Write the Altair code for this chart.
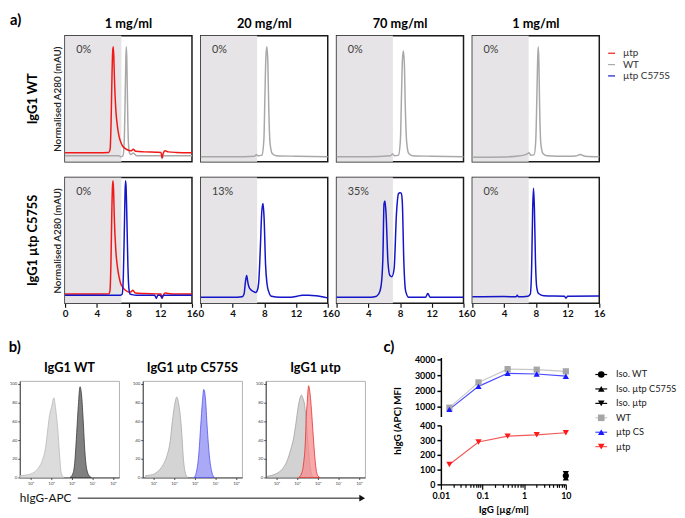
import altair as alt
import pandas as pd

FONT = "Lato"
MU = "\u00b5"

# ---------------- panel a : SEC chromatograms ----------------
col_titles = ["1 mg/ml", "20 mg/ml", "70 mg/ml", "1 mg/ml"]
row_titles = ["IgG1 WT", f"IgG1 {MU}tp C575S"]
pct_row1 = ["0%", "0%", "0%", "0%"]
pct_row2 = ["0%", "13%", "35%", "0%"]
a_series = [f"{MU}tp", "WT", f"{MU}tp C575S"]
a_colors = ["#f01818", "#a8a8a8", "#1414c8"]
SHADE_END = 7.1

r1p1_mutp_t = [0, 2, 4, 5.5, 5.68, 5.8, 5.92, 6.0, 6.07, 6.14, 6.22, 6.4, 6.6, 6.8, 7.0, 7.2, 7.6, 8.0, 8.35, 8.6, 8.9, 10, 11.5, 12.1, 12.22, 12.35, 12.6, 13, 14, 16]
r1p1_mutp_a = [0.027, 0.027, 0.027, 0.03, 0.06, 0.3, 0.75, 0.95, 1.0, 0.92, 0.72, 0.42, 0.27, 0.18, 0.13, 0.095, 0.065, 0.05, 0.045, 0.06, 0.04, 0.035, 0.032, 0.03, -0.02, 0.015, 0.045, 0.035, 0.03, 0.027]
r1p1_wt_t = [0, 4, 6.8, 7.0, 7.3, 7.45, 7.57, 7.66, 7.72, 7.78, 7.87, 7.97, 8.1, 8.3, 8.6, 9.0, 10, 12.1, 12.25, 12.4, 14, 16]
r1p1_wt_a = [0.0, 0.0, 0.0, -0.01, 0.0, 0.12, 0.5, 0.88, 1.0, 0.9, 0.5, 0.15, 0.03, 0.01, 0.025, 0.0, 0.0, 0.0, -0.025, 0.0, 0.0, 0.0]
r1p2_wt_t = [0, 4, 6.8, 7.0, 7.2, 7.7, 7.95, 8.08, 8.2, 8.32, 8.44, 8.56, 8.72, 9.0, 9.5, 12, 16]
r1p2_wt_a = [-0.01, -0.01, -0.005, 0.01, 0.0, 0.005, 0.15, 0.55, 0.9, 1.0, 0.88, 0.45, 0.12, 0.02, 0.0, -0.005, -0.01]
r1p3_wt_t = [0, 4, 6.8, 7.05, 7.3, 7.8, 8.05, 8.18, 8.3, 8.42, 8.54, 8.66, 8.84, 9.1, 9.6, 12, 16]
r1p3_wt_a = [-0.01, -0.01, 0.0, 0.015, 0.0, 0.005, 0.15, 0.55, 0.88, 0.96, 0.85, 0.45, 0.12, 0.02, 0.0, -0.005, -0.01]
r1p4_wt_t = [0, 4, 5.5, 6.5, 7.0, 7.15, 7.35, 7.8, 8.0, 8.12, 8.22, 8.3, 8.38, 8.48, 8.62, 8.9, 9.4, 12, 13, 13.6, 14.2, 16]
r1p4_wt_a = [-0.015, -0.012, -0.005, 0.005, 0.02, 0.028, 0.005, 0.01, 0.15, 0.5, 0.85, 1.0, 0.88, 0.45, 0.12, 0.02, 0.0, -0.005, -0.003, 0.01, -0.005, -0.01]

r2p1_mutp_t = [0, 2, 4, 5.5, 5.66, 5.78, 5.9, 5.98, 6.05, 6.12, 6.2, 6.4, 6.6, 6.8, 7.0, 7.2, 7.6, 8.0, 8.3, 8.55, 8.85, 10, 11.5, 12.1, 12.22, 12.35, 12.6, 13, 14, 16]
r2p1_mutp_a = [0.03, 0.03, 0.03, 0.032, 0.06, 0.3, 0.8, 1.02, 1.07, 0.98, 0.75, 0.43, 0.28, 0.19, 0.13, 0.1, 0.065, 0.05, 0.05, 0.065, 0.04, 0.035, 0.032, 0.03, -0.01, 0.015, 0.04, 0.035, 0.03, 0.03]
r2p1_cs_t = [0, 4, 7.0, 7.2, 7.35, 7.48, 7.57, 7.63, 7.7, 7.8, 7.92, 8.05, 8.2, 8.45, 9.0, 11.3, 11.5, 11.7, 12.0, 12.2, 12.4, 14, 16]
r2p1_cs_a = [0.02, 0.02, 0.02, 0.03, 0.2, 0.65, 0.98, 1.07, 1.0, 0.7, 0.3, 0.08, 0.03, 0.025, 0.02, 0.02, -0.01, 0.02, 0.02, -0.005, 0.02, 0.02, 0.02]
r2p2_cs_t = [0, 2, 4, 5.2, 5.45, 5.62, 5.78, 5.92, 6.05, 6.3, 6.6, 6.9, 7.1, 7.3, 7.5, 7.68, 7.84, 7.98, 8.16, 8.35, 8.57, 8.9, 10, 11, 12, 12.8, 13.6, 14.5, 15.3, 16]
r2p2_cs_a = [0.0, 0.0, 0.0, 0.005, 0.03, 0.14, 0.2, 0.14, 0.1, 0.07, 0.055, 0.045, 0.06, 0.14, 0.45, 0.78, 0.86, 0.72, 0.3, 0.12, 0.05, 0.01, 0.0, 0.0, 0.008, 0.02, 0.02, 0.015, 0.005, -0.005]
r2p3_cs_t = [0, 2, 4, 4.8, 5.3, 5.6, 5.83, 5.98, 6.1, 6.24, 6.48, 6.72, 6.97, 7.25, 7.55, 7.8, 8.0, 8.15, 8.28, 8.48, 8.7, 9.1, 10, 11.2, 11.5, 11.8, 13, 16]
r2p3_cs_a = [0.0, 0.0, 0.0, 0.005, 0.03, 0.1, 0.35, 0.86, 0.885, 0.76, 0.32, 0.2, 0.19, 0.26, 0.77, 0.95, 0.96, 0.955, 0.88, 0.32, 0.06, 0.0, 0.0, 0.0, 0.035, 0.0, 0.0, 0.0]
r2p4_cs_t = [0, 4, 5.5, 5.66, 5.8, 7.0, 7.3, 7.48, 7.6, 7.71, 7.82, 7.95, 8.12, 8.35, 9.0, 11.6, 11.8, 12.0, 16]
r2p4_cs_a = [0.005, 0.008, 0.005, 0.02, 0.005, 0.01, 0.03, 0.3, 0.8, 1.0, 0.82, 0.35, 0.09, 0.035, 0.015, 0.01, -0.008, 0.01, 0.012]

# ---------------- panel b : flow histograms (log10 fluorescence, % of max) ----------------
b_titles = ["IgG1 WT", f"IgG1 {MU}tp C575S", f"IgG1 {MU}tp"]
h1_iso_x = [0.5, 0.86, 1.18, 1.41, 1.57, 1.73, 1.84, 1.92, 2.02, 2.13, 2.22, 2.32, 2.40, 2.48, 2.60]
h1_iso_y = [2, 2.9, 5.7, 11, 18, 32, 52, 66, 75, 85, 73, 52, 27, 5.7, 0.3]
h1_ab_x = [2.92, 3.08, 3.16, 3.24, 3.32, 3.40, 3.48, 3.56, 3.63, 3.71, 3.84, 3.95]
h1_ab_y = [0, 5.7, 20, 48, 77, 97, 87, 59, 30, 11, 2, 0]
h2_iso_x = [0.62, 0.94, 1.25, 1.49, 1.65, 1.81, 1.92, 2.02, 2.13, 2.21, 2.29, 2.37, 2.44, 2.52, 2.65]
h2_iso_y = [2, 3, 7.4, 14.5, 23, 39, 61, 77, 86, 80, 68, 48, 23, 7.4, 0]
h2_ab_x = [2.97, 3.08, 3.19, 3.29, 3.37, 3.44, 3.52, 3.60, 3.71, 3.83, 3.95]
h2_ab_y = [0, 5.7, 23, 55, 80, 94, 84, 55, 23, 5.7, 0]
h3_iso_x = [0.57, 0.97, 1.29, 1.52, 1.68, 1.84, 1.95, 2.05, 2.13, 2.21, 2.29, 2.37, 2.44, 2.52, 2.60, 2.68, 2.79]
h3_iso_y = [1.4, 3.9, 9.2, 18, 29, 43, 59, 75, 84, 88, 84, 77, 61, 39, 18, 5.7, 0]
h3_ab_x = [2.08, 2.24, 2.32, 2.40, 2.44, 2.49, 2.56, 2.62, 2.68, 2.76, 2.84, 2.92, 3.00, 3.11]
h3_ab_y = [0, 5.7, 16, 38, 62, 80, 98, 91, 77, 52, 27, 9.2, 2, 0]

# ---------------- panel c : binding curves ----------------
c_conc = [0.016, 0.08, 0.4, 2, 10]
c_wt = [940, 2545, 3390, 3355, 3250]
c_cs = [830, 2295, 3125, 3080, 2940]
c_mutp = [135, 287, 327, 336, 350]
c_iso_conc = [10]
c_iso_wt = [58]
c_iso_cs = [45]
c_iso_mutp = [72]
c_series = ["Iso. WT", f"Iso. {MU}tp C575S", f"Iso. {MU}tp", "WT", f"{MU}tp CS", f"{MU}tp"]
c_point_colors = ["#000000", "#000000", "#000000", "#a6a6a6", "#1a1aff", "#ff1a1a"]
c_line_colors = ["#000000", "#000000", "#000000", "#c8c8c8", "#4a4aff", "#f25a5a"]
c_shapes = ["circle", "triangle-up", "triangle-down", "square", "triangle-up", "triangle-down"]

# ---------------- layout constants ----------------
A_W, A_H = 129, 128
A_YDOM = [-0.055, 1.1]
SHADE_COLOR = "#e6e4e6"
PCT_X, PCT_Y = 1.4, 0.97
H_W, H_H = 101, 98
C_W, C_HU, C_HL = 127, 60, 60
NOFRAME = alt.ViewBackground(stroke="transparent")

a_color_scale = alt.Scale(domain=a_series, range=a_colors)


def chrom_panel(traces, pct, title=None, bottom=False, first=False):
    xs = alt.Scale(domain=[0, 16], nice=False, zero=False)
    ys = alt.Scale(domain=A_YDOM, nice=False, zero=False)
    if bottom:
        xaxis = alt.Axis(values=[0, 4, 8, 12, 16], title=None, labelFontSize=10, labelFontWeight="bold",
                         labelColor="#111", labelFont=FONT, tickSize=4, tickColor="#111", tickWidth=1.2,
                         domain=False, grid=False, labelPadding=1, labelFlush=False)
    else:
        xaxis = None
    if first:
        yaxis = alt.Axis(title="Normalised A280 (mAU)", labels=False, ticks=False, domain=False, grid=False,
                         titleFontSize=10, titleFontWeight=600, titleFont=FONT, titleColor="#222",
                         titlePadding=3)
    else:
        yaxis = None
    shade_df = pd.DataFrame({"x0": [0.0], "x1": [SHADE_END], "y0": [A_YDOM[0]], "y1": [A_YDOM[1]]})
    layers = [alt.Chart(shade_df).mark_rect(color=SHADE_COLOR).encode(
        x=alt.X("x0:Q", scale=xs, axis=xaxis), x2="x1:Q",
        y=alt.Y("y0:Q", scale=ys, axis=yaxis), y2="y1:Q")]
    for name, t, a in traces:
        df = pd.DataFrame({"t": t, "a": a, "series": name, "i": list(range(len(t)))})
        layers.append(alt.Chart(df).mark_line(strokeWidth=1.5, interpolate="monotone").encode(
            x=alt.X("t:Q", scale=xs, axis=xaxis),
            y=alt.Y("a:Q", scale=ys, axis=yaxis),
            color=alt.Color("series:N", scale=a_color_scale, legend=None),
            order="i:Q"))
    tdf = pd.DataFrame({"p": [pct], "px": [PCT_X], "py": [PCT_Y]})
    layers.append(alt.Chart(tdf).mark_text(align="left", baseline="middle", fontSize=11, font=FONT,
                                           color="#404040").encode(
        x=alt.X("px:Q", scale=xs, axis=xaxis), y=alt.Y("py:Q", scale=ys, axis=yaxis), text="p:N"))
    props = dict(width=A_W, height=A_H, view=alt.ViewBackground(stroke="#1a1a1a", strokeWidth=1.5))
    if title is not None:
        props["title"] = alt.TitleParams(title, fontSize=13, fontWeight="bold", font=FONT, color="black", offset=5)
    return alt.layer(*layers).properties(**props)


WT, MT, CS = "WT", f"{MU}tp", f"{MU}tp C575S"
row1_panels = [
    chrom_panel([(WT, r1p1_wt_t, r1p1_wt_a), (MT, r1p1_mutp_t, r1p1_mutp_a)], pct_row1[0], col_titles[0], first=True),
    chrom_panel([(WT, r1p2_wt_t, r1p2_wt_a)], pct_row1[1], col_titles[1]),
    chrom_panel([(WT, r1p3_wt_t, r1p3_wt_a)], pct_row1[2], col_titles[2]),
    chrom_panel([(WT, r1p4_wt_t, r1p4_wt_a)], pct_row1[3], col_titles[3]),
]
row2_panels = [
    chrom_panel([(MT, r2p1_mutp_t, r2p1_mutp_a), (CS, r2p1_cs_t, r2p1_cs_a)], pct_row2[0], bottom=True, first=True),
    chrom_panel([(CS, r2p2_cs_t, r2p2_cs_a)], pct_row2[1], bottom=True),
    chrom_panel([(CS, r2p3_cs_t, r2p3_cs_a)], pct_row2[2], bottom=True),
    chrom_panel([(CS, r2p4_cs_t, r2p4_cs_a)], pct_row2[3], bottom=True),
]

# legend of panel a (built from the same colour scale)
leg_a_df = pd.DataFrame({"series": a_series})
ly_a = alt.Scale(type="point", domain=a_series, range=[12, 12 + 17.3 * 2])
legA = alt.layer(
    alt.Chart(leg_a_df).mark_rule(strokeWidth=1.2).encode(
        x=alt.value(0), x2=alt.value(7), y=alt.Y("series:N", scale=ly_a, axis=None),
        color=alt.Color("series:N", scale=a_color_scale, legend=None)),
    alt.Chart(leg_a_df).mark_text(align="left", baseline="middle", fontSize=10, font=FONT, color="#333").encode(
        x=alt.value(15), y=alt.Y("series:N", scale=ly_a, axis=None), text="series:N"),
).properties(width=58, height=A_H, view=NOFRAME)


def row_label(text, panel_tag=None):
    lab = alt.Chart(pd.DataFrame({"lab": [text]})).mark_text(
        angle=270, fontSize=13, fontWeight="bold", font=FONT, color="black").encode(
        text="lab:N", x=alt.value(13))
    layers = [lab]
    if panel_tag is not None:
        layers.append(alt.Chart(pd.DataFrame({"tag": [panel_tag]})).mark_text(
            align="left", baseline="top", fontSize=15, fontWeight="bold", font=FONT, color="black").encode(
            text="tag:N", x=alt.value(-10), y=alt.value(-23)))
    return alt.layer(*layers).properties(width=37, height=A_H, view=NOFRAME)


row1 = alt.hconcat(row_label(row_titles[0], "a)"), *row1_panels, legA, spacing=9, bounds="flush")
row2 = alt.hconcat(row_label(row_titles[1]), *row2_panels, spacing=9, bounds="flush")
rowA = alt.vconcat(row1, row2, spacing=14)

# ---------------- panel b ----------------
hx = alt.Scale(domain=[0.48, 5.3], nice=False, zero=False)
hy = alt.Scale(domain=[0, 103], nice=False, zero=False)
sup = "['\u2070','\u00b9','\u00b2','\u00b3','\u2074','\u2075']"
hxaxis = alt.Axis(values=[1, 2, 3, 4, 5], labelExpr="'10' + " + sup + "[datum.value]", title=None,
                  labelFontSize=4.5, tickSize=2, grid=False, domainColor="#444", tickColor="#444",
                  labelColor="#444", labelPadding=1)
hyaxis = alt.Axis(values=[0, 20, 40, 60, 80, 100], title=None, labelFontSize=4.5, tickSize=2, grid=False,
                  domainColor="#444", tickColor="#444", labelColor="#444", labelPadding=1)


def hist(title, ix, iy, ifill, istroke, sx, sy, sfill, sstroke, sop):
    d1 = pd.DataFrame({"l": ix, "n": iy})
    d2 = pd.DataFrame({"l": sx, "n": sy})
    a1 = alt.Chart(d1).mark_area(interpolate="monotone", fill=ifill, stroke=istroke, strokeWidth=0.8).encode(
        x=alt.X("l:Q", scale=hx, axis=hxaxis), y=alt.Y("n:Q", scale=hy, axis=hyaxis))
    a2 = alt.Chart(d2).mark_area(interpolate="monotone", fill=sfill, fillOpacity=sop, stroke=sstroke,
                                 strokeWidth=0.8).encode(
        x=alt.X("l:Q", scale=hx, axis=hxaxis), y=alt.Y("n:Q", scale=hy, axis=hyaxis))
    return alt.layer(a1, a2).properties(
        width=H_W, height=H_H, view=alt.ViewBackground(stroke="#a0a0a0", strokeWidth=0.8),
        title=alt.TitleParams(title, fontSize=13, fontWeight="bold", font=FONT, color="black", offset=6))


hists = alt.hconcat(
    hist(b_titles[0], h1_iso_x, h1_iso_y, "#dcdcdc", "#b8b8b8", h1_ab_x, h1_ab_y, "#808080", "#3a3a3a", 1.0),
    hist(b_titles[1], h2_iso_x, h2_iso_y, "#d4d4d4", "#a8a8a8", h2_ab_x, h2_ab_y, "#a9a9f6", "#5050f0", 1.0),
    hist(b_titles[2], h3_iso_x, h3_iso_y, "#d2d2d2", "#a0a0a0", h3_ab_x, h3_ab_y, "#f78c8c", "#e03030", 0.75),
    spacing=24, bounds="flush")

arr_df = pd.DataFrame({"lab": ["hIgG-APC"]})
arrow = alt.layer(
    alt.Chart(arr_df).mark_text(align="left", baseline="middle", fontSize=12, font=FONT, color="#111").encode(
        text="lab:N", x=alt.value(0), y=alt.value(12)),
    alt.Chart(arr_df).mark_rule(color="#111", strokeWidth=1).encode(
        x=alt.value(59), x2=alt.value(346), y=alt.value(12)),
    alt.Chart(arr_df).mark_point(shape="triangle-right", filled=True, size=45, color="#111", opacity=1).encode(
        x=alt.value(348), y=alt.value(12)),
).properties(width=351, height=14, view=NOFRAME)

spacer = alt.Chart(pd.DataFrame({"d": [0]})).mark_point(opacity=0, size=0).encode(
    x=alt.value(0), y=alt.value(0)).properties(width=351, height=3, view=NOFRAME)

panelB = alt.vconcat(spacer, hists, arrow, spacing=0,
                     title=alt.TitleParams("b)", anchor="start", fontSize=15, fontWeight="bold", font=FONT,
                                           color="black", offset=2, dx=0))

# ---------------- panel c ----------------
rows = []
for s, ys_ in ((c_series[3], c_wt), (c_series[4], c_cs), (c_series[5], c_mutp)):
    for x, y in zip(c_conc, ys_):
        rows.append({"conc": x, "mfi": y, "series": s})
for s, ys_ in ((c_series[0], c_iso_wt), (c_series[1], c_iso_cs), (c_series[2], c_iso_mutp)):
    for x, y in zip(c_iso_conc, ys_):
        rows.append({"conc": x, "mfi": y, "series": s})
cdf = pd.DataFrame(rows)
up_df = cdf[cdf["series"].isin([c_series[3], c_series[4]])]
lo_df = cdf[~cdf["series"].isin([c_series[3], c_series[4]])]

majors = "[0.01,0.1,1,10]"
minor_ticks = [round(m * 10.0 ** e, 4) for e in (-2, -1, 0) for m in range(1, 10)] + [10]
cx = alt.Scale(type="log", domain=[0.01, 10], nice=False)
cxaxis = alt.Axis(values=minor_ticks, format="~g",
                  labelExpr="indexof(" + majors + ", datum.value) >= 0 ? datum.label : ''",
                  tickSize={"condition": {"test": "indexof(" + majors + ", datum.value) >= 0", "value": 5},
                            "value": 3},
                  tickWidth=1.2, tickColor="black", domainColor="black", domainWidth=1.5,
                  labelFontSize=9, labelFontWeight="bold", labelColor="black", labelFont=FONT,
                  title=f"IgG [{MU}g/ml]", titleFontSize=10, titleFontWeight="bold", titleFont=FONT,
                  titleColor="black", titlePadding=5, grid=False, labelPadding=2, labelFlush=False)
ax_common = dict(tickWidth=1.5, tickColor="black", tickSize=4, domainColor="black", domainWidth=1.5,
                 labelFontSize=9, labelFontWeight="bold", labelColor="black", labelFont=FONT, grid=False,
                 labelPadding=2, format="d")
cy_up_axis = alt.Axis(values=[1000, 2000, 3000, 4000], title="hIgG (APC) MFI", titleFontSize=10,
                      titleFontWeight="bold", titleFont=FONT, titleColor="black", titleY=64, titlePadding=12,
                      **ax_common)
cy_lo_axis = alt.Axis(values=[0, 100, 200, 300, 400], title=None, **ax_common)

c_color = alt.Scale(domain=c_series, range=c_point_colors)
c_stroke = alt.Scale(domain=c_series, range=c_line_colors)
c_shape = alt.Scale(domain=c_series, range=c_shapes)


def c_chart(df, ysc, yaxis, xaxis, h):
    line = alt.Chart(df).mark_line(strokeWidth=1.2).encode(
        x=alt.X("conc:Q", scale=cx, axis=xaxis),
        y=alt.Y("mfi:Q", scale=ysc, axis=yaxis),
        stroke=alt.Stroke("series:N", scale=c_stroke, legend=None))
    pts = alt.Chart(df).mark_point(filled=True, size=40, opacity=1).encode(
        x=alt.X("conc:Q", scale=cx, axis=xaxis),
        y=alt.Y("mfi:Q", scale=ysc, axis=yaxis),
        color=alt.Color("series:N", scale=c_color, legend=None),
        shape=alt.Shape("series:N", scale=c_shape, legend=None))
    return alt.layer(line, pts).properties(width=C_W, height=h, view=NOFRAME)


upper = c_chart(up_df, alt.Scale(domain=[380, 4130], nice=False, zero=False), cy_up_axis, None, C_HU)
lower = c_chart(lo_df, alt.Scale(domain=[0, 400], nice=False, zero=False), cy_lo_axis, cxaxis, C_HL)
panelC = alt.vconcat(upper, lower, spacing=9, bounds="flush",
                     title=alt.TitleParams("c)", anchor="start", fontSize=15, fontWeight="bold", font=FONT,
                                           color="black", offset=0, dx=-9))

# legend of panel c (built from the same colour / shape / stroke scales)
leg_c_df = pd.DataFrame({"series": c_series})
ly_c = alt.Scale(type="point", domain=c_series, range=[10, 10 + 17.6 * 5])
legC = alt.layer(
    alt.Chart(leg_c_df).mark_rule(strokeWidth=1.2).encode(
        x=alt.value(6), x2=alt.value(18), y=alt.Y("series:N", scale=ly_c, axis=None),
        stroke=alt.Stroke("series:N", scale=c_stroke, legend=None)),
    alt.Chart(leg_c_df).mark_point(filled=True, size=45, opacity=1).encode(
        x=alt.value(12), y=alt.Y("series:N", scale=ly_c, axis=None),
        color=alt.Color("series:N", scale=c_color, legend=None),
        shape=alt.Shape("series:N", scale=c_shape, legend=None)),
    alt.Chart(leg_c_df).mark_text(align="left", baseline="middle", fontSize=9.4, font=FONT, color="#222").encode(
        x=alt.value(27), y=alt.Y("series:N", scale=ly_c, axis=None), text="series:N"),
).properties(width=60, height=110, view=NOFRAME)

rowB = alt.hconcat(panelB, panelC, legC, spacing=17)

chart = alt.vconcat(rowA, rowB, spacing=21, padding=0).resolve_scale(
    color="independent", shape="independent", stroke="independent"
).configure(font=FONT).configure_view(stroke="transparent")

chart.save("out.html", embed_options={"renderer": "svg", "actions": False})
